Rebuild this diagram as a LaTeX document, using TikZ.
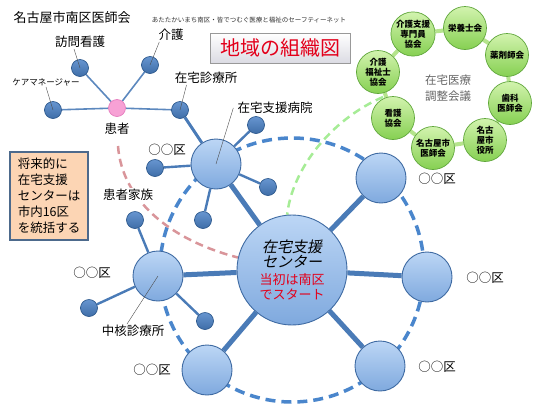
\documentclass[tikz,border=0pt]{standalone}
\usepackage{fontspec}
\setmainfont{Noto Sans CJK JP}
\newfontfamily\jpslant[FakeSlant=0.2]{Noto Sans CJK JP}
\usetikzlibrary{backgrounds}

\definecolor{linkblue}{HTML}{4A7BB7}
\definecolor{balltop}{HTML}{BCD6F5}
\definecolor{ballbot}{HTML}{7FA9DE}
\definecolor{ballrim}{HTML}{3E6AA2}
\definecolor{sattop}{HTML}{6795D0}
\definecolor{satbot}{HTML}{3F6EA8}
\definecolor{satrim}{HTML}{2E5A8E}
\definecolor{greentop}{HTML}{D2F3AE}
\definecolor{greenbot}{HTML}{86D052}
\definecolor{greenrim}{HTML}{5FA63A}
\definecolor{greenlink}{HTML}{B5E48C}
\definecolor{pinkfill}{HTML}{F7A1D5}
\definecolor{pinkrim}{HTML}{E57DBE}
\definecolor{titlered}{HTML}{E3001B}
\definecolor{notefill}{HTML}{FCD5B4}
\definecolor{noterim}{HTML}{4D6A8C}
\definecolor{famdash}{HTML}{D9959A}
\definecolor{caredash}{HTML}{A6EC96}
\definecolor{ringdash}{HTML}{4A86CC}

\newcommand{\hubfont}{\jpslant\fontsize{15}{17}\selectfont}
\newcommand{\hubred}{\color{titlered}\fontsize{13}{15}\selectfont}

\tikzset{
  ballnode/.style={circle,draw=ballrim,line width=0.9pt,top color=balltop,
    bottom color=ballbot,minimum size=50pt,inner sep=0pt},
  satnode/.style={circle,draw=satrim,line width=0.7pt,top color=sattop,
    bottom color=satbot,minimum size=17pt,inner sep=0pt},
  pnode/.style={circle,draw=pinkrim,line width=0.7pt,fill=pinkfill,
    minimum size=17pt,inner sep=0pt},
  grnode/.style={circle,draw=greenrim,line width=0.7pt,top color=greentop,
    bottom color=greenbot,minimum size=43pt,inner sep=0pt,align=center,
    font=\bfseries\fontsize{8.5}{10}\selectfont},
  lbl/.style={font=\fontsize{12.5}{14}\selectfont,inner sep=1pt},
  leader/.style={draw=black!70,line width=0.4pt},
  spoke/.style={draw=linkblue,line width=5pt},
  twig/.style={draw=linkblue,line width=2.4pt},
  ptwig/.style={draw=linkblue!90,line width=1.6pt}
}

\begin{document}
\begin{tikzpicture}[x=1pt,y=-1pt]
  \useasboundingbox (0,0) rectangle (540,405);

  % headings
  \node[lbl,font=\fontsize{13}{15}\selectfont] (assoc) at (72,18) {名古屋市南区医師会};
  \node[font=\fontsize{6.5}{7}\selectfont,text=black!80] (motto) at (249,20)
    {あたたかいまち南区・皆でつむぐ医療と福祉のセーフティーネット};
  \node[draw=gray!80,line width=1pt,top color=white,bottom color=blue!12!gray!25,
    minimum width=140pt,minimum height=30pt,text=titlered,
    font=\fontsize{20}{22}\selectfont] (title) at (280,48) {地域の組織図};

  % hub and districts
  \node[ballnode,minimum size=110pt,align=center,font=\fontsize{14}{15}\selectfont] (hub) at (292,270)
    {{\hubfont 在宅支援}\\{\hubfont センター}\\[2pt]{\hubred 当初は南区}\\{\hubred でスタート}};
  \node[ballnode] (hosp) at (216,164) {};
  \node[ballnode] (chukaku) at (158,276) {};
  \foreach \n/\x/\y in {ne/381/178,e/427/277,se/380/366,s/207/370}{
    \node[ballnode] (d\n) at (\x,\y) {};
  }
  \foreach \n/\x/\y in {ne/437/179,e/485/278,se/437/367,s/152/370,w/92/273,h/167/150}{
    \node[lbl] (ward\n) at (\x,\y) {○○区};
  }

  % satellites
  \foreach \n/\x/\y in {1/256/125,2/268/187,3/203/220,4/155/168}{
    \node[satnode] (hs\n) at (\x,\y) {};
  }
  \foreach \n/\x/\y in {1/135/220,2/89/308,3/205/321}{
    \node[satnode] (cs\n) at (\x,\y) {};
  }

  % patient
  \node[pnode] (patient) at (117,108) {};
  \node[satnode] (houmon) at (80,68) {};
  \node[satnode] (kaigo) at (150,65) {};
  \node[satnode] (caremgr) at (53,110) {};
  \node[satnode] (clinic) at (180,110) {};

  \node[lbl] (lbHoumon) at (80,42) {訪問看護};
  \node[lbl] (lbKaigo) at (171,35) {介護};
  \node[lbl,font=\fontsize{8.5}{10}\selectfont] (lbCare) at (46,82) {ケアマネージャー};
  \node[lbl] (lbClinic) at (206,78) {在宅診療所};
  \node[lbl] (lbPatient) at (117,129) {患者};
  \node[lbl] (lbHosp) at (275,108) {在宅支援病院};
  \node[lbl,fill=white] (lbFamily) at (128,195) {患者家族};
  \node[lbl] (lbChukaku) at (133,331) {中核診療所};

  % council ring
  \foreach \n/\x/\y/\t in {1/413/34/{介護支援\\専門員\\協会},2/465/28/{栄養士会},
      3/507/55/{薬剤師会},4/510/103/{歯科\\医師会},5/485/140/{名古\\屋市\\役所},
      6/433/148/{名古屋市\\医師会},7/393/118/{看護\\協会},8/378/72/{介護\\福祉士\\協会}}{
    \node[grnode] (g\n) at (\x,\y) {\t};
  }
  \node[text=black!60,align=center,font=\fontsize{11.5}{16}\selectfont] (council) at (448,88)
    {在宅医療\\調整会議};
  \coordinate (carestart) at (383,97);
  \coordinate (famtop) at (118,146);

  % note
  \node[draw=noterim,line width=1.5pt,fill=notefill,align=left,
    font=\fontsize{12.5}{16}\selectfont,minimum width=78pt,minimum height=88pt] (note) at (49,196)
    {将来的に\\在宅支援\\センターは\\市内16区\\を統括する};

  \begin{scope}[on background layer]
    \draw[ringdash,line width=3.5pt,dash pattern=on 10pt off 6pt] (hub.center) circle[radius=132];
    \draw[famdash,line width=2.5pt,dash pattern=on 8pt off 5pt]
      (famtop) .. controls (122,200) and (170,240) .. (hub.167);
    \draw[caredash,line width=2.5pt,dash pattern=on 8pt off 5pt]
      (carestart) .. controls (330,120) and (292,170) .. (hub.95);
    \foreach \n in {hosp,chukaku,dne,de,dse,ds}{
      \draw[spoke] (hub) -- (\n);
    }
    \foreach \n in {1,...,4}{
      \draw[twig] (hosp) -- (hs\n);
    }
    \foreach \n in {1,...,3}{
      \draw[twig] (chukaku) -- (cs\n);
    }
    \draw[twig,line width=3pt] (hosp) -- (clinic);
    \foreach \n in {houmon,kaigo,caremgr,clinic}{
      \draw[ptwig] (patient) -- (\n);
    }
    \foreach \a/\b in {1/2,2/3,3/4,4/5,5/6,6/7,7/8,8/1}{
      \draw[greenlink,line width=4pt] (g\a) -- (g\b);
    }
  \end{scope}

  % leaders
  \draw[leader] ([xshift=-6pt]lbHoumon.south) -- (houmon.center);
  \draw[leader] ([xshift=2pt]lbKaigo.south west) -- (kaigo.center);
  \draw[leader] (lbCare.south) -- (caremgr.center);
  \draw[leader] ([xshift=13pt]lbClinic.south west) -- (clinic.center);
  \draw[leader] ([xshift=-3pt]lbHosp.west) -- (hosp.center);
  \draw[leader] ([xshift=-6pt]lbChukaku.north) -- (chukaku.center);
\end{tikzpicture}
\end{document}
